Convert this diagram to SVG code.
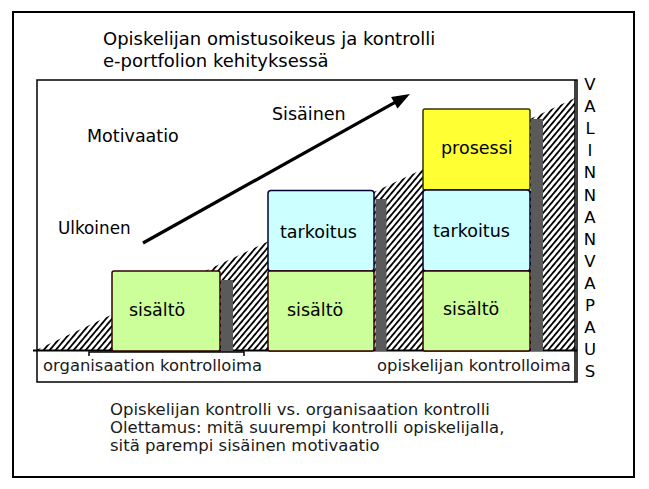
<svg xmlns="http://www.w3.org/2000/svg" width="649" height="489" viewBox="0 0 649 489">
<style>
  text { font-family: "DejaVu Sans", Verdana, "Liberation Sans", sans-serif; fill: #000; }
  .title { font-size: 18px; }
  .lbl { font-size: 17.5px; }
  .axis { font-size: 16.4px; fill: #1a1a1a; }
  .note { font-size: 16.5px; fill: #1a1a1a; }
  .vert { font-size: 16.5px; text-anchor: middle; }
  .green { fill: #ccff99; stroke: #330000; stroke-width: 1.5; }
  .cyan { fill: #ccffff; stroke: #000033; stroke-width: 1.5; }
  .yellow { fill: #ffff33; stroke: #333300; stroke-width: 1.5; }
  .bar { fill: #5a5a5a; }
  .frame { fill: none; stroke: #000; }
</style>
<defs>
  <pattern id="hatch" patternUnits="userSpaceOnUse" width="4.6" height="10" patternTransform="rotate(40)">
    <rect x="0" y="0" width="4.6" height="10" fill="#fff"/>
    <rect x="0" y="0" width="1.8" height="10" fill="#000"/>
  </pattern>
</defs>
<rect x="0" y="0" width="649" height="489" fill="#fff"/>
<rect class="frame" x="13" y="12" width="621" height="465" stroke-width="2"/>
<g id="title">
  <text class="title" x="103" y="45">Opiskelijan omistusoikeus ja kontrolli</text>
  <text class="title" x="103" y="67">e-portfolion kehityksessä</text>
</g>
<rect class="frame" x="37" y="80" width="540" height="302" stroke-width="1.5"/>
<polygon id="hatch-area" points="34,351 575,351 575,98" fill="url(#hatch)"/>
<line x1="33" y1="350.5" x2="577" y2="350.5" stroke="#000" stroke-width="2"/>
<path d="M89,356 V352 H244 V356" fill="none" stroke="#000" stroke-width="1.5"/>
<line x1="575" y1="80" x2="575" y2="382" stroke="#000" stroke-width="1.5"/>
<g id="col1">
  <rect class="green" x="112" y="271" width="108" height="80" rx="2"/>
  <rect class="bar" x="221" y="280" width="12" height="71"/>
  <text class="lbl" x="129" y="316">sisältö</text>
</g>
<g id="col2">
  <rect class="cyan" x="268" y="190.5" width="106" height="80.5" rx="3"/>
  <rect class="green" x="268" y="271" width="106" height="80" rx="2"/>
  <rect class="bar" x="375.5" y="199" width="11" height="152"/>
  <text class="lbl" x="280" y="237.5">tarkoitus</text>
  <text class="lbl" x="287" y="315.5">sisältö</text>
</g>
<g id="col3">
  <rect class="yellow" x="423" y="109" width="107" height="81" rx="2"/>
  <rect class="cyan" x="423" y="190" width="107" height="81" rx="3"/>
  <rect class="green" x="423" y="271" width="107" height="80" rx="2"/>
  <rect class="bar" x="531" y="119" width="12" height="232"/>
  <text class="lbl" x="441" y="154">prosessi</text>
  <text class="lbl" x="433" y="237">tarkoitus</text>
  <text class="lbl" x="443" y="315">sisältö</text>
</g>
<g id="connectors">
  <line x1="143" y1="243" x2="395" y2="102.4" stroke="#000" stroke-width="3.2"/>
  <polygon points="410,94 397.5,108.5 391.1,97.1" fill="#000"/>
</g>
<g id="labels">
  <text class="lbl" x="87" y="142">Motivaatio</text>
  <text class="lbl" x="58" y="234" style="font-size:16.8px">Ulkoinen</text>
  <text class="lbl" x="272" y="120">Sisäinen</text>
  <text class="axis" x="43" y="371">organisaation kontrolloima</text>
  <text class="axis" x="377" y="371">opiskelijan kontrolloima</text>
</g>
<g id="valinnanvapaus">
  <text class="vert" x="590" y="90">V</text>
  <text class="vert" x="590" y="112">A</text>
  <text class="vert" x="590" y="134">L</text>
  <text class="vert" x="590" y="156">I</text>
  <text class="vert" x="590" y="178">N</text>
  <text class="vert" x="590" y="200.5">N</text>
  <text class="vert" x="590" y="222.5">A</text>
  <text class="vert" x="590" y="245">N</text>
  <text class="vert" x="590" y="267">V</text>
  <text class="vert" x="590" y="289">A</text>
  <text class="vert" x="590" y="311">P</text>
  <text class="vert" x="590" y="333">A</text>
  <text class="vert" x="590" y="355">U</text>
  <text class="vert" x="590" y="377">S</text>
</g>
<g id="notes">
  <text class="note" x="110" y="415">Opiskelijan kontrolli vs. organisaation kontrolli</text>
  <text class="note" x="110" y="433">Olettamus: mitä suurempi kontrolli opiskelijalla,</text>
  <text class="note" x="110" y="450.5">sitä parempi sisäinen motivaatio</text>
</g>
</svg>
